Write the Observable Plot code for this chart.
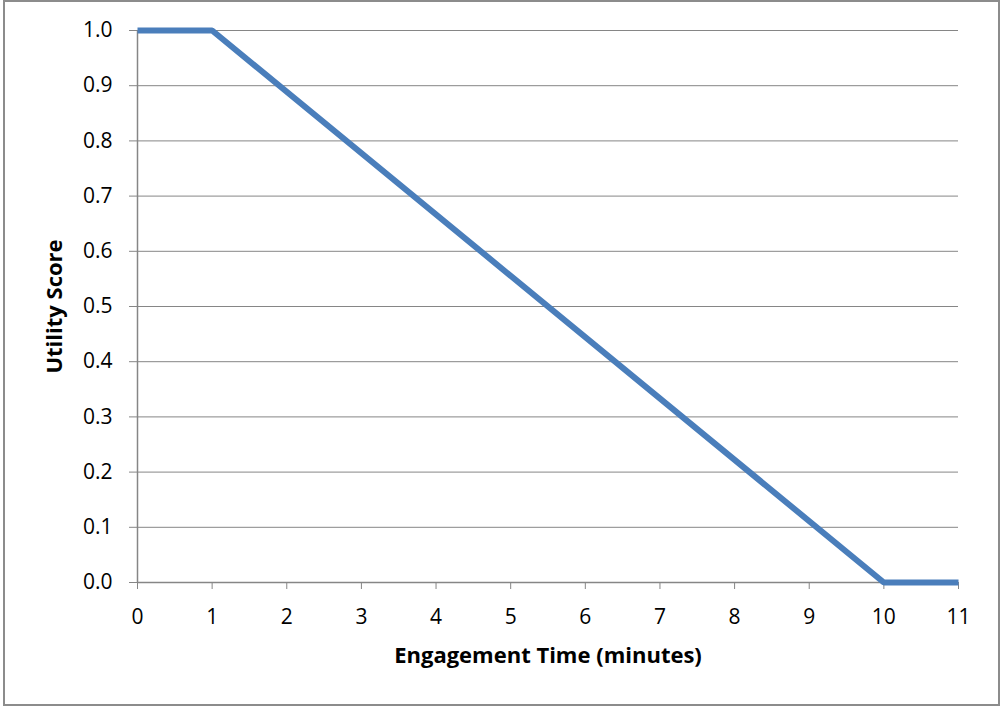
<!DOCTYPE html>
<html>
<head>
<meta charset="utf-8">
<script src="https://cdn.jsdelivr.net/npm/d3@7"></script>
<script src="https://cdn.jsdelivr.net/npm/@observablehq/plot@0.6"></script>
<style>
  html, body { margin: 0; padding: 0; background: #fff; }
  #wrap { position: relative; width: 1000px; height: 706px; }
  #border { position: absolute; left: 3px; top: 0px; width: 993px; height: 702px; border: 2px solid #8c8c8c; box-sizing: content-box; pointer-events: none; }
  svg { position: absolute; left: 0; top: 0; }
</style>
</head>
<body>
<div id="wrap"><div id="border"></div></div>
<script>
const timeMinutes = [0, 1, 10, 11];
const utilityScore = [1.0, 1.0, 0.0, 0.0];
const xTicks = [0, 1, 2, 3, 4, 5, 6, 7, 8, 9, 10, 11];
const yTicks = [0, 0.1, 0.2, 0.3, 0.4, 0.5, 0.6, 0.7, 0.8, 0.9, 1.0];
const xLabel = "Engagement Time (minutes)";
const yLabel = "Utility Score";

const data = timeMinutes.map((t, i) => ({t, u: utilityScore[i]}));

const chart = Plot.plot({
  width: 1000,
  height: 706,
  marginLeft: 137,
  marginRight: 42,
  marginTop: 30,
  marginBottom: 124,
  style: {fontFamily: "'Open Sans', sans-serif", fontSize: "21px", color: "#000", background: "transparent"},
  x: {domain: [0, 11]},
  y: {domain: [0, 1]},
  marks: [
    Plot.ruleY(yTicks.filter(d => d > 0), {stroke: "#868686", strokeWidth: 1, strokeOpacity: 1}),
    Plot.ruleX([0], {stroke: "#868686", strokeWidth: 1.5}),
    Plot.ruleY([0], {stroke: "#868686", strokeWidth: 1.5}),
    Plot.axisY({ticks: yTicks, tickFormat: d3.format(".1f"), tickSize: 8, tickPadding: 17, fontSize: 21, stroke: "#868686", strokeOpacity: 1, label: null}),
    Plot.axisX({ticks: xTicks, tickFormat: d => String(d), tickSize: 7, tickPadding: 20, fontSize: 21, stroke: "#868686", strokeOpacity: 1, label: null}),
    Plot.text([yLabel], {frameAnchor: "left", textAnchor: "middle", lineAnchor: "middle", dx: -83, rotate: -90, fontWeight: "bold", fontSize: 22}),
    Plot.text([xLabel], {frameAnchor: "bottom", textAnchor: "middle", lineAnchor: "middle", dy: 73.5, fontWeight: "bold", fontSize: 22}),
    Plot.line(data, {x: "t", y: "u", stroke: "#4A7EBB", strokeWidth: 6, strokeLinejoin: "miter", strokeLinecap: "butt"})
  ]
});
document.getElementById("wrap").appendChild(chart);
</script>
</body>
</html>
